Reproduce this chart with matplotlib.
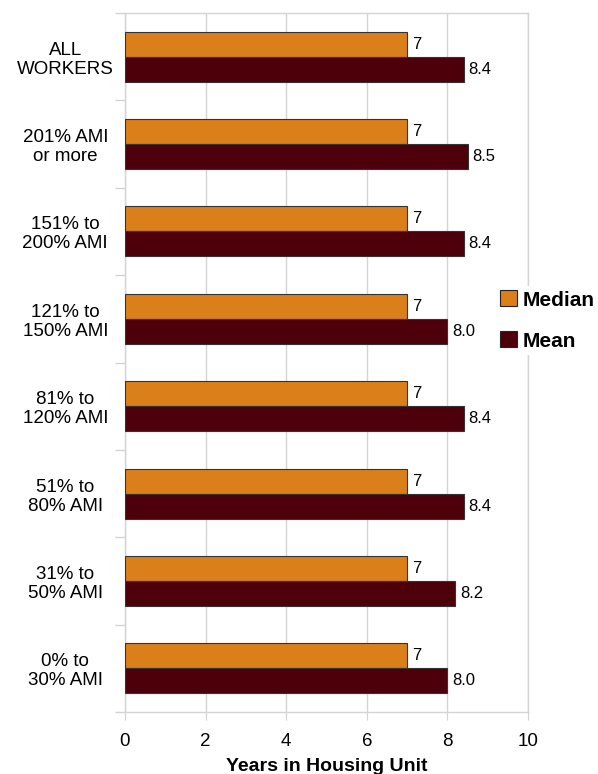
import matplotlib.pyplot as plt
import numpy as np

plt.rcParams['font.family'] = ['Liberation Sans', 'DejaVu Sans']

categories = ["ALL\nWORKERS", "201% AMI\nor more", "151% to\n200% AMI",
              "121% to\n150% AMI", "81% to\n120% AMI", "51% to\n80% AMI",
              "31% to\n50% AMI", "0% to\n30% AMI"]
median_years = [7, 7, 7, 7, 7, 7, 7, 7]
mean_years = [8.4, 8.5, 8.4, 8.0, 8.4, 8.4, 8.2, 8.0]

orange = '#DA7F1A'
maroon = '#4D000A'
grid_col = '#D4D4D4'

fig = plt.figure(figsize=(5.98, 7.74), dpi=100)
ax = fig.add_axes([125 / 598, 1 - 712 / 774, 403 / 598, 699 / 774])

y = np.arange(len(categories)) + 0.5
h = 0.286
bm = ax.barh(y - h / 2, median_years, height=h, color=orange,
             edgecolor='#333333', linewidth=0.8, label='Median', zorder=3)
bn = ax.barh(y + h / 2, mean_years, height=h, color=maroon,
             edgecolor='#333333', linewidth=0.8, label='Mean', zorder=3)

# value labels just past the end of each bar
for rect, v in zip(bm, median_years):
    ax.text(v + 0.12, rect.get_y() + rect.get_height() / 2, f"{v:g}",
            va='center', ha='left', fontsize=12)
for rect, v in zip(bn, mean_years):
    ax.text(v + 0.12, rect.get_y() + rect.get_height() / 2, f"{v:.1f}",
            va='center', ha='left', fontsize=12)

ax.set_xlim(0, 10)
ax.set_ylim(len(categories), 0)
ax.set_xticks(range(0, 11, 2))
ax.tick_params(axis='x', labelsize=13.5, length=6, color=grid_col, pad=9)

ax.set_yticks(y)
ax.set_yticklabels(categories, fontsize=13.5, linespacing=1.15)
for lbl in ax.get_yticklabels():
    lbl.set_horizontalalignment('center')
    lbl.set_multialignment('center')
ax.tick_params(axis='y', which='major', length=0, pad=43)
ax.set_yticks(np.arange(len(categories) + 1), minor=True)
ax.tick_params(axis='y', which='minor', length=7, color=grid_col, width=1)

ax.grid(axis='x', color=grid_col, linewidth=1, zorder=0)
for side in ['top', 'right', 'left', 'bottom']:
    ax.spines[side].set_color(grid_col)
    ax.spines[side].set_linewidth(1)

ax.set_xlabel('Years in Housing Unit', fontsize=14, fontweight='bold', labelpad=6)

leg = ax.legend(loc='center left', bbox_to_anchor=(0.92, 0.56), frameon=True,
                facecolor='white', edgecolor='none', framealpha=1,
                prop={'weight': 'bold', 'size': 15}, handlelength=0.8,
                handleheight=0.8, handletextpad=0.3, labelspacing=1.05,
                borderaxespad=0, borderpad=0.2)
for patch in leg.get_patches():
    patch.set_edgecolor('#222222')

plt.savefig('out.png')
